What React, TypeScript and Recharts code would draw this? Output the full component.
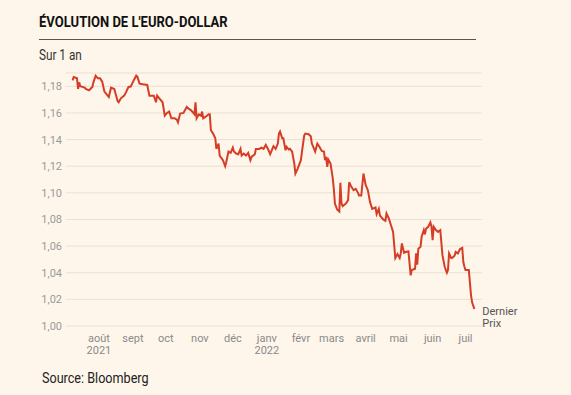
import { LineChart, Line, XAxis, YAxis, CartesianGrid } from 'recharts';

// day 0 = 1 July 2021
const days = [
  7, 8, 11, 12, 13, 14, 18, 19, 22, 25, 26, 28, 30, 32, 34, 36, 39, 40, 42, 45,
  46, 48, 49, 51, 54, 56, 57, 58, 60, 63, 65, 66, 68, 71, 75, 77, 81, 83, 84, 86,
  89, 91, 93, 95, 97, 100, 102, 103, 105, 108, 110, 111, 113, 115, 117, 118, 119, 120, 122, 124,
  125, 126, 128, 131, 132, 133, 135, 137, 138, 140, 141, 144, 146, 147, 149, 151, 153, 154, 156, 158,
  160, 161, 163, 165, 167, 169, 170, 173, 174, 177, 179, 181, 183, 185, 187, 188, 190, 192, 194, 195,
  196, 198, 199, 201, 202, 204, 205, 207, 209, 210, 212, 215, 216, 218, 219, 222, 224, 225, 227, 228,
  230, 232, 234, 236, 237, 238, 239, 240, 242, 244, 245, 246, 248, 250, 251, 252, 253, 256, 258, 259,
  261, 263, 265, 267, 268, 270, 272, 274, 276, 278, 280, 283, 284, 286, 287, 288, 290, 292, 293, 295,
  297, 299, 300, 301, 303, 305, 306, 307, 309, 311, 313, 315, 316, 319, 320, 321, 322, 324, 325, 327,
  328, 329, 331, 333, 334, 335, 336, 338, 340, 342, 344, 346, 348, 349, 350, 352, 353, 355, 356, 358,
  360, 362, 363, 364, 365, 368, 370, 371, 373,
];

const rates = [
  1.1845, 1.187, 1.186, 1.178, 1.183, 1.18, 1.179, 1.178, 1.177, 1.1795, 1.183, 1.188, 1.186, 1.186, 1.1835, 1.176, 1.173, 1.172, 1.179, 1.178,
  1.175, 1.169, 1.168, 1.171, 1.173, 1.176, 1.178, 1.1795, 1.1798, 1.185, 1.188, 1.1873, 1.182, 1.1815, 1.181, 1.173, 1.173, 1.168, 1.173, 1.171,
  1.168, 1.158, 1.16, 1.161, 1.156, 1.156, 1.155, 1.153, 1.1595, 1.16, 1.163, 1.1645, 1.163, 1.162, 1.16, 1.159, 1.168, 1.156, 1.159, 1.158,
  1.161, 1.156, 1.157, 1.159, 1.159, 1.147, 1.1445, 1.141, 1.133, 1.137, 1.128, 1.1245, 1.12, 1.123, 1.131, 1.13, 1.134, 1.131, 1.1295, 1.129,
  1.133, 1.128, 1.1295, 1.128, 1.13, 1.1245, 1.127, 1.129, 1.133, 1.133, 1.134, 1.133, 1.136, 1.133, 1.129, 1.131, 1.135, 1.133, 1.137, 1.1445,
  1.146, 1.141, 1.141, 1.132, 1.1345, 1.1325, 1.133, 1.131, 1.122, 1.1145, 1.118, 1.1245, 1.131, 1.143, 1.1445, 1.144, 1.1425, 1.137, 1.133, 1.131,
  1.137, 1.1345, 1.1315, 1.131, 1.1245, 1.127, 1.1195, 1.125, 1.122, 1.111, 1.103, 1.092, 1.0875, 1.086, 1.1075, 1.092, 1.09, 1.092, 1.0945, 1.108,
  1.1045, 1.102, 1.103, 1.1, 1.098, 1.098, 1.1145, 1.106, 1.102, 1.093, 1.088, 1.089, 1.084, 1.088, 1.083, 1.082, 1.08, 1.079, 1.0845, 1.081,
  1.0758, 1.0707, 1.061, 1.051, 1.054, 1.051, 1.0545, 1.062, 1.055, 1.0557, 1.056, 1.038, 1.042, 1.043, 1.0545, 1.046, 1.058, 1.0595, 1.067, 1.072,
  1.0688, 1.073, 1.0745, 1.0778, 1.0745, 1.0645, 1.0745, 1.072, 1.0707, 1.072, 1.053, 1.0445, 1.04, 1.042, 1.0545, 1.051, 1.0512, 1.0527, 1.0557, 1.0545,
  1.0578, 1.0587, 1.048, 1.0445, 1.042, 1.042, 1.023, 1.0178, 1.0128,
];

const monthTicks = [31, 62, 92, 123, 153, 184, 215, 243, 274, 304, 335, 365];
const monthLabels = ['août', 'sept', 'oct', 'nov', 'déc', 'janv', 'févr', 'mars', 'avril', 'mai', 'juin', 'juil'];
const yearLabels = ['2021', '', '', '', '', '2022', '', '', '', '', '', ''];
const rateTicks = [1.0, 1.02, 1.04, 1.06, 1.08, 1.1, 1.12, 1.14, 1.16, 1.18];

const data = days.map((d, i) => ({ day: d, rate: rates[i] }));

const FONT = 'Roboto, sans-serif';

const MonthTick = (props: any) => {
  const { x, y, payload } = props;
  const i = monthTicks.indexOf(payload.value);
  return (
    <text x={x} y={y} textAnchor="middle" fill="#8a8a8a" fontSize={11} fontFamily={FONT}>
      <tspan x={x} dy={8}>{monthLabels[i]}</tspan>
      {yearLabels[i] && <tspan x={x} dy={12}>{yearLabels[i]}</tspan>}
    </text>
  );
};

const RateTick = (props: any) => {
  const { x, y, payload } = props;
  return (
    <text x={x + 4} y={y} dy={4} textAnchor="end" fill="#9a9a9a" fontSize={11} fontFamily={FONT}>
      {payload.value.toFixed(2).replace('.', ',')}
    </text>
  );
};

const LastLabel = (props: any) => {
  const { x, y, index } = props;
  if (index !== data.length - 1) return null;
  return (
    <text x={x + 8} y={y} fill="#555" fontSize={11} fontFamily={FONT}>
      <tspan x={x + 8} dy={6}>Dernier</tspan>
      <tspan x={x + 8} dy={12}>Prix</tspan>
    </text>
  );
};

export default function App() {
  return (
    <div style={{ position: 'absolute', left: 0, top: 0, width: 571, height: 395, background: '#fef6ea', fontFamily: FONT, overflow: 'hidden' }}>
      <div style={{ position: 'absolute', left: 39, top: 13, fontSize: 15.5, lineHeight: '18px', fontWeight: 700, color: '#111', transform: 'scaleX(0.84)', transformOrigin: 'left', whiteSpace: 'nowrap' }}>
        ÉVOLUTION DE L'EURO-DOLLAR
      </div>
      <div style={{ position: 'absolute', left: 39, top: 39, width: 437, borderTop: '1.5px solid #555' }} />
      <div style={{ position: 'absolute', left: 39, top: 47, fontSize: 14, lineHeight: '16px', color: '#333', transform: 'scaleX(0.84)', transformOrigin: 'left', whiteSpace: 'nowrap' }}>
        Sur 1 an
      </div>
      <div style={{ position: 'absolute', left: 0, top: 60 }}>
        <LineChart width={571} height={306} data={data} margin={{ top: 13, right: 89, bottom: 0, left: 0 }}>
          <CartesianGrid vertical={false} stroke="#e8e1d4" />
          <XAxis
            dataKey="day"
            type="number"
            domain={[1, 380]}
            ticks={monthTicks}
            tick={<MonthTick />}
            tickLine={false}
            axisLine={false}
            height={40}
            interval={0}
          />
          <YAxis
            type="number"
            domain={[1.0, 1.19]}
            ticks={rateTicks}
            tick={<RateTick />}
            tickLine={false}
            axisLine={false}
            width={66}
            interval={0}
          />
          <Line
            type="linear"
            dataKey="rate"
            stroke="#d63d27"
            strokeWidth={2}
            dot={false}
            isAnimationActive={false}
            label={<LastLabel />}
          />
        </LineChart>
      </div>
      <div style={{ position: 'absolute', left: 42, top: 370, fontSize: 14, lineHeight: '16px', color: '#222', transform: 'scaleX(0.9)', transformOrigin: 'left', whiteSpace: 'nowrap' }}>
        Source: Bloomberg
      </div>
    </div>
  );
}
